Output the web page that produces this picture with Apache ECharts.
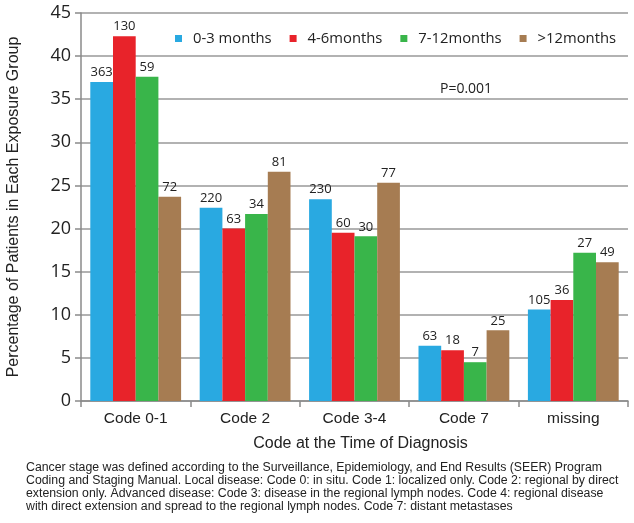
<!DOCTYPE html>
<html><head><meta charset="utf-8">
<script src="https://cdn.jsdelivr.net/npm/echarts@6/dist/echarts.min.js"></script>
<style>html,body{margin:0;padding:0;background:#fff}#c{width:634px;height:523px}</style>
</head><body><div id="c"></div>
<script>
const categories = ['Code 0-1', 'Code 2', 'Code 3-4', 'Code 7', 'missing'];
const seriesNames = ['0-3 months', '4-6months', '7-12months', '>12months'];
const pct03 = [37.0, 22.4, 23.4, 6.4, 10.6];
const pct46 = [42.3, 20.0, 19.5, 5.9, 11.7];
const pct712 = [37.6, 21.7, 19.1, 4.5, 17.2];
const pct12p = [23.7, 26.6, 25.3, 8.2, 16.1];
const n03 = [363, 220, 230, 63, 105];
const n46 = [130, 63, 60, 18, 36];
const n712 = [59, 34, 30, 7, 27];
const n12p = [72, 81, 77, 25, 49];
const yTicks = [0, 5, 10, 15, 20, 25, 30, 35, 40, 45];
const colors = ['#29A9E1', '#E8232A', '#39B54A', '#A67C52'];
const footer = [
 'Cancer stage was defined according to the Surveillance, Epidemiology, and End Results (SEER) Program',
 'Coding and Staging Manual. Local disease: Code 0: in situ. Code 1: localized only. Code 2: regional by direct',
 'extension only. Advanced disease: Code 3: disease in the regional lymph nodes. Code 4: regional disease',
 'with direct extension and spread to the regional lymph nodes. Code 7: distant metastases'
];

const pcts = [pct03, pct46, pct712, pct12p];
const counts = [n03, n46, n712, n12p];
const chart = echarts.init(document.getElementById('c'));
chart.setOption({
  animation: false,
  color: colors,
  legend: {
    top: 26, left: 170, width: 470, itemWidth: 7, itemHeight: 7, itemGap: 18, icon: 'rect',
    textStyle: { fontFamily: 'Open Sans', fontSize: 14.8, color: '#222', padding: [0, 0, 0, 6] },
    data: seriesNames
  },
  grid: { left: 81, right: 6, top: 13, bottom: 122, containLabel: false, outerBoundsMode: 'none' },
  xAxis: {
    type: 'category', data: categories,
    name: 'Code at the Time of Diagnosis', nameLocation: 'middle', nameGap: 35,
    nameTextStyle: { fontFamily: 'Liberation Sans', fontSize: 16, color: '#222', padding: [0, 0, 0, 12] },
    axisLine: { lineStyle: { color: '#8a8a8a', width: 1.5 } },
    axisTick: { show: true, length: 6, lineStyle: { color: '#8a8a8a', width: 1.5 } },
    axisLabel: { fontFamily: 'Liberation Sans', fontSize: 15.5, color: '#222', margin: 10 }
  },
  yAxis: {
    type: 'value', min: 0, max: 45, interval: 5,
    name: 'Percentage of Patients in Each Exposure Group', nameLocation: 'middle', nameGap: 59,
    nameTextStyle: { fontFamily: 'Liberation Sans', fontSize: 16, color: '#222' },
    axisLine: { show: true, lineStyle: { color: '#8a8a8a', width: 1.5 } },
    axisTick: { show: true, length: 6, lineStyle: { color: '#8a8a8a', width: 1.5 } },
    axisLabel: { fontFamily: 'Open Sans', fontSize: 18, color: '#222', margin: 10,
      formatter: v => yTicks.includes(v) ? String(v) : '' },
    splitLine: { lineStyle: { color: '#999', width: 1.5 } }
  },
  series: seriesNames.map((nm, i) => ({
    name: nm, type: 'bar', data: pcts[i], barGap: '0%', barCategoryGap: '17%',
    label: { show: true, position: 'top', distance: 3, fontFamily: 'Open Sans', fontSize: 13, color: '#222',
      formatter: p => String(counts[i][p.dataIndex]) }
  })),
  graphic: [
    { type: 'text', left: 440, top: 82, style: { text: 'P=0.001', font: '14px "Open Sans"', fill: '#222' } },
    { type: 'text', left: 26, top: 461, style: { text: footer.join('\n'), font: '12.3px "Liberation Sans"', lineHeight: 13, fill: '#222' } }
  ]
});
</script></body></html>
